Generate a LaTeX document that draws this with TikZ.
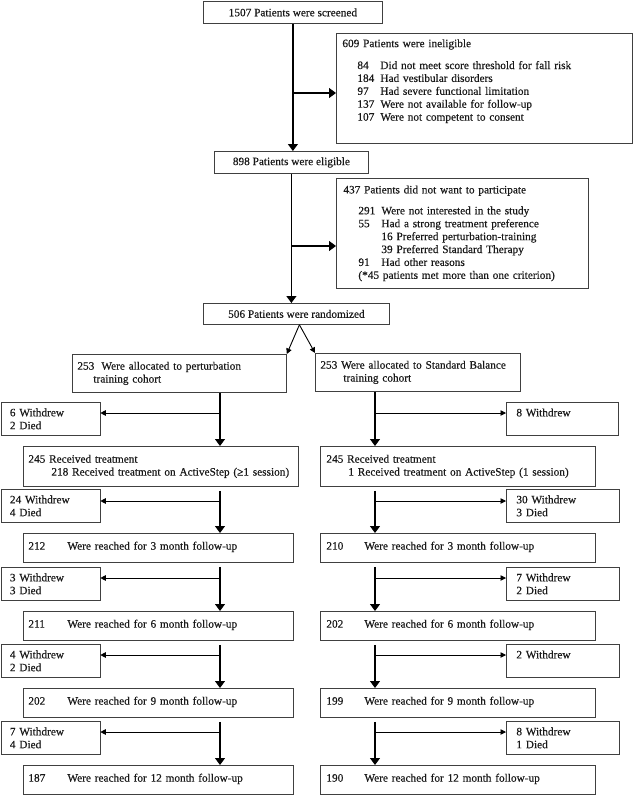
\documentclass[tikz,border=0pt]{standalone}
\usepackage{fontspec}
\setmainfont{Liberation Serif}[FakeBold=0.35]
\usetikzlibrary{positioning, arrows.meta}
\newcommand{\nb}[2][23pt]{\makebox[#1][l]{#2}} % number column
\newcommand{\ind}{\hspace*{15pt}} % indent of the sub items
\tikzset{
        box/.style={draw=black!75, line width=0.8pt, anchor=north west, align=left,
            inner xsep=5pt, inner ysep=0pt, text=black!90,
            font=\fontsize{11.3}{12.9}\selectfont}, % every box of the chart
        cbox/.style={box, align=center}, % one line boxes of the trunk
        wbox/.style={box, inner xsep=9pt, minimum height=33pt}, % withdrew boxes
        fbox/.style={box, minimum height=29pt, text depth=4.5pt}, % follow-up boxes
        flow/.style={draw, line width=1.2pt, -{Triangle[width=10pt,length=7pt]}}, % main arrows
        side/.style={draw, line width=0.9pt, -{Triangle[width=5.5pt,length=5.5pt]}}, % side arrows
        gap/.style={shorten <=4pt}, % lines that start below a box
    }

\begin{document}
\begin{tikzpicture}[x=1pt, y=-1pt]
    \useasboundingbox (0,0) rectangle (633,795);
    % trunk
    \node[cbox, minimum width=179pt, minimum height=22pt] (a) at (203,1) {1507 Patients were screened};
    \node[box, inner xsep=6pt, text width=284pt, minimum height=110pt] (b) at (336,33)
        {609 Patients were ineligible\\[9pt]
         \ind\nb{84}Did not meet score threshold for fall risk\\
         \ind\nb{184}Had vestibular disorders\\
         \ind\nb{97}Had severe functional limitation\\
         \ind\nb{137}Were not available for follow-up\\
         \ind\nb{107}Were not competent to consent\\[4pt]
         \mbox{}};
    \node[cbox, minimum width=154pt, minimum height=22pt] (c) at (214,151) {898 Patients were eligible};
    \node[box, inner xsep=7pt, text width=238pt, minimum height=110pt] (d) at (336,178)
        {437 Patients did not want to participate\\[8pt]
         \ind\nb{291}Were not interested in the study\\
         \ind\nb{55}Had a strong treatment preference\\
         \ind\nb{}16 Preferred perturbation-training\\
         \ind\nb{}39 Preferred Standard Therapy\\
         \ind\nb{91}Had other reasons\\
         \ind(*45 patients met more than one criterion)};
    \node[cbox, minimum width=186pt, minimum height=21pt] (r) at (203,303) {506 Patients were randomized};
    % perturbation training cohort
    \node[box, text width=204pt, minimum height=38pt] (p0) at (72,354)
        {253\hspace{7pt}Were allocated to perturbation\\\hspace*{16pt}training cohort};
    \node[wbox, text width=81pt] (pw0) at (0.5,402) {6 Withdrew\\2 Died};
    \node[box, text width=265pt, minimum height=40pt] (p1) at (23,446)
        {245 Received treatment\\\hspace*{23pt}\mbox{218 Received treatment on ActiveStep (≥1 session)}};
    \node[wbox, text width=81pt] (pw1) at (0.5,489) {24 Withdrew\\4 Died};
    \node[fbox, text width=260pt] (p2) at (23,533) {\nb[39pt]{212}Were reached for 3 month follow-up};
    \node[wbox, text width=81pt] (pw2) at (0.5,567) {3 Withdrew\\3 Died};
    \node[fbox, text width=260pt] (p3) at (23,611) {\nb[39pt]{211}Were reached for 6 month follow-up};
    \node[wbox, text width=81pt] (pw3) at (0.5,644) {4 Withdrew\\2 Died};
    \node[fbox, text width=260pt] (p4) at (23,688) {\nb[39pt]{202}Were reached for 9 month follow-up};
    \node[wbox, text width=81pt] (pw4) at (0.5,721) {7 Withdrew\\4 Died};
    \node[fbox, text width=260pt] (p5) at (23,765) {\nb[39pt]{187}Were reached for 12 month follow-up};
    % standard balance training cohort
    \node[box, text width=195pt, minimum height=38pt] (q0) at (315,353)
        {253 Were allocated to Standard Balance\\\hspace*{23pt}training cohort};
    \node[wbox, inner xsep=10pt, text width=92pt] (qw0) at (506,402) {8 Withdrew\\\mbox{}};
    \node[box, inner xsep=6pt, text width=263pt, minimum height=40pt] (q1) at (320,446)
        {245 Received treatment\\\hspace*{22pt}\mbox{1 Received treatment on ActiveStep (1 session)}};
    \node[wbox, inner xsep=10pt, text width=93pt] (qw1) at (506,489) {30 Withdrew\\3 Died};
    \node[fbox, inner xsep=6pt, text width=263pt] (q2) at (320,533) {\nb[38pt]{210}Were reached for 3 month follow-up};
    \node[wbox, inner xsep=10pt, text width=93pt] (qw2) at (506,567) {7 Withdrew\\2 Died};
    \node[fbox, inner xsep=6pt, text width=263pt] (q3) at (320,611) {\nb[38pt]{202}Were reached for 6 month follow-up};
    \node[wbox, inner xsep=10pt, text width=93pt] (qw3) at (506,644) {2 Withdrew\\\mbox{}};
    \node[fbox, inner xsep=6pt, text width=263pt] (q4) at (320,688) {\nb[38pt]{199}Were reached for 9 month follow-up};
    \node[wbox, inner xsep=10pt, text width=93pt] (qw4) at (506,721) {8 Withdrew\\1 Died};
    \node[fbox, inner xsep=6pt, text width=263pt] (q5) at (320,765) {\nb[38pt]{190}Were reached for 12 month follow-up};
    % joints of the lines
    \coordinate (cp) at (220,0);
    \coordinate (cq) at (375,0);
    \coordinate (j1) at (292.5,93);
    \coordinate (j2) at (291,246);
    \coordinate (bp0) at (220,413);
    \coordinate (bp1) at (220,501);
    \coordinate (bp2) at (220,578);
    \coordinate (bp3) at (220,655);
    \coordinate (bp4) at (220,732);
    \coordinate (bq0) at (375,413);
    \coordinate (bq1) at (375,501);
    \coordinate (bq2) at (375,578);
    \coordinate (bq3) at (375,655);
    \coordinate (bq4) at (375,732);
    \path (a.south) edge[flow] (a.south |- c.north)
          (j1) edge[flow] (j1 -| b.west)
          (c.south) edge[flow] (c.south |- r.north)
          (j2) edge[flow] (j2 -| d.west)
          ([xshift=3pt]r.south) edge[side] (p0.north east)
          ([xshift=3pt]r.south) edge[side] (q0.north west)
          (p0.south -| cp) edge[flow] (p1.north -| cp)
          (bp0) edge[side] (bp0 -| pw0.east)
          (p1.south -| cp) edge[flow, gap] (p2.north -| cp)
          (bp1) edge[side] (bp1 -| pw1.east)
          (p2.south -| cp) edge[flow, gap] (p3.north -| cp)
          (bp2) edge[side] (bp2 -| pw2.east)
          (p3.south -| cp) edge[flow, gap] (p4.north -| cp)
          (bp3) edge[side] (bp3 -| pw3.east)
          (p4.south -| cp) edge[flow, gap] (p5.north -| cp)
          (bp4) edge[side] (bp4 -| pw4.east)
          (q0.south -| cq) edge[flow] (q1.north -| cq)
          (bq0) edge[side] (bq0 -| qw0.west)
          (q1.south -| cq) edge[flow, gap] (q2.north -| cq)
          (bq1) edge[side] (bq1 -| qw1.west)
          (q2.south -| cq) edge[flow, gap] (q3.north -| cq)
          (bq2) edge[side] (bq2 -| qw2.west)
          (q3.south -| cq) edge[flow, gap] (q4.north -| cq)
          (bq3) edge[side] (bq3 -| qw3.west)
          (q4.south -| cq) edge[flow, gap] (q5.north -| cq)
          (bq4) edge[side] (bq4 -| qw4.west);
\end{tikzpicture}
\end{document}
